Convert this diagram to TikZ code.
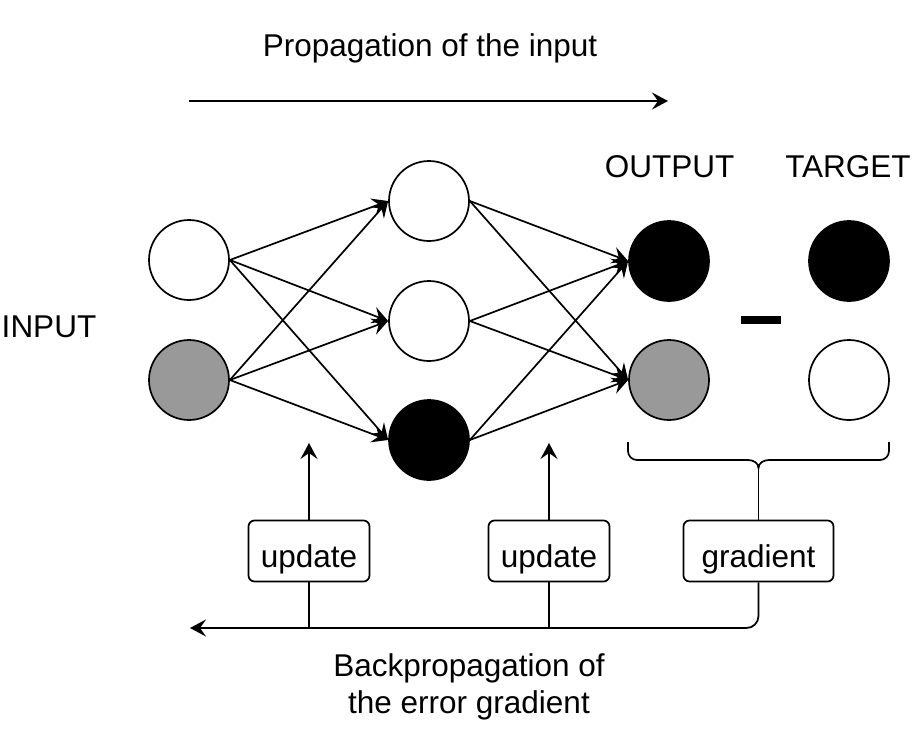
\documentclass[tikz,border=0pt]{standalone}
\usepackage{fontspec}
\setmainfont{Liberation Sans}
\usetikzlibrary{arrows.meta}
\begin{document}
\begin{tikzpicture}[x=1pt,y=-1pt,
  every node/.style={font=\fontsize{31.5}{37}\selectfont},
  neuron/.style={circle,draw=black,line width=1.7pt,minimum size=80pt,inner sep=0pt},
  wfill/.style={neuron,fill=white},
  gfill/.style={neuron,fill=black!40},
  bfill/.style={neuron,fill=black},
  label/.style={inner sep=0pt,anchor=base},
  tagbox/.style={draw=black,line width=1.7pt,rounded corners=6pt,fill=white,inner sep=0pt,anchor=center,text height=34pt,text depth=2pt},
  arr/.style={line width=1.7pt,-{Stealth[length=16pt,width=17pt,inset=6pt]}},
  ln/.style={line width=1.7pt}
]
\useasboundingbox (0,0) rectangle (914,734);

% labels
\node[label] (ptxt) at (430,56) {Propagation of the input};
\node[label] (intxt) at (49,337) {INPUT};
\node[label] (outtxt) at (669.5,177) {OUTPUT};
\node[label] (tgttxt) at (848,177) {TARGET};
\node[label] (bp1) at (469,676) {Backpropagation of};
\node[label] (bp2) at (469,713) {the error gradient};

% top arrow
\coordinate (pa) at (189,101);
\coordinate (pb) at (668,101);
\draw[arr] (pa) -- (pb);

% neurons
\node[wfill] (i1) at (189,260) {};
\node[gfill] (i2) at (189,380) {};
\node[wfill] (h1) at (429,201) {};
\node[wfill] (h2) at (429,321) {};
\node[bfill] (h3) at (429,440) {};
\node[bfill] (o1) at (669,261) {};
\node[gfill] (o2) at (669,380) {};
\node[bfill] (t1) at (849,261) {};
\node[wfill] (t2) at (849,380) {};

% connections
\foreach \a in {i1,i2}{
  \foreach \b in {h1,h2,h3}{
    \draw[arr] (\a.east) -- (\b.west);
  }
}
\foreach \a in {h1,h2,h3}{
  \foreach \b in {o1,o2}{
    \draw[arr] (\a.east) -- (\b.west);
  }
}

% minus sign
\fill[black] (741,316) rectangle (781,324);

% brace
\coordinate (btip) at (758.5,468);
\draw[ln] (628,442) -- (628,451) to[out=-90,in=180] (637,460) -- (748,460)
  to[out=0,in=90] (btip) to[out=90,in=180] (769,460) -- (880,460)
  to[out=0,in=-90] (889,451) -- (889,442);

% boxes
\node[tagbox,minimum width=150pt,minimum height=61pt] (grad) at (758.5,551) {gradient};
\node[tagbox,minimum width=121pt,minimum height=61pt] (up1) at (309,551) {update};
\node[tagbox,minimum width=121pt,minimum height=61pt] (up2) at (549,551) {update};

\draw[ln] (btip) -- (grad.north);

% backpropagation line
\coordinate (bend) at (190,628);
\coordinate (j1) at (309,628);
\coordinate (j2) at (549,628);
\draw[arr,rounded corners=12pt] (grad.south) |- (bend);
\draw[ln] (j1) -- (up1.south);
\draw[ln] (j2) -- (up2.south);
\coordinate (u1t) at (309,443);
\coordinate (u2t) at (549,443);
\draw[arr] (up1.north) -- (u1t);
\draw[arr] (up2.north) -- (u2t);
\end{tikzpicture}
\end{document}
